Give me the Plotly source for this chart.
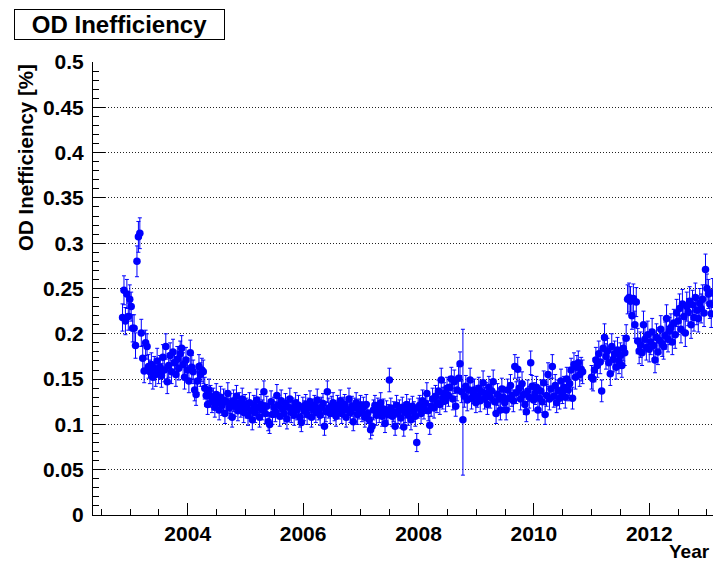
import plotly.graph_objects as go
import numpy as np

# ---------------- data ----------------
# Segment A: late 2002 -> end 2010, Segment B: 2011 -> early 2013 (regular time grid, in years)
segA_start = 2002.870
segB_start = 2011.000
step_years = 0.025

ineff_A = [
    .218, .248, .214, .244, .219, .238, .230, .206, .206, .187,
    .280, .307, .311, .201, .173, .159, .190, .186, .164, .158,
    .166, .152, .162, .155, .170, .158, .163, .154, .174, .160,
    .186, .147, .165, .176, .158, .180, .168, .155, .172, .162,
    .178, .184, .166, .152, .171, .160, .148, .179, .163, .158,
    .138, .133, .148, .164, .155, .160, .158, .140, .132, .122,
    .138, .131, .125, .128, .119, .133, .124, .116, .130, .121,
    .127, .112, .125, .134, .118, .123, .108, .126, .120, .131,
    .115, .124, .119, .128, .113, .122, .118, .110, .124, .115,
    .105, .121, .113, .127, .119, .108, .122, .116, .136, .112,
    .120, .103, .100, .125, .111, .119, .114, .132, .121, .109,
    .126, .117, .112, .123, .106, .119, .128, .113, .118, .110,
    .124, .116, .121, .108, .102, .119, .115, .122, .111, .118,
    .125, .108, .117, .121, .113, .127, .116, .110, .119, .123,
    .098, .114, .136, .118, .112, .120, .124, .115, .109, .121,
    .117, .126, .112, .119, .122, .108, .116, .128, .113, .120,
    .103, .118, .124, .111, .117, .121, .114, .119, .108, .122,
    .112, .105, .094, .098, .116, .121, .110, .118, .113, .124,
    .109, .117, .101, .115, .111, .149, .118, .109, .114, .098,
    .121, .112, .116, .107, .119, .097, .113, .122, .110, .117,
    .105, .120, .114, .109, .080, .118, .121, .112, .126, .117,
    .123, .134, .115, .099, .120, .128, .118, .131, .124, .137,
    .122, .149, .129, .134, .126, .140, .132, .141, .150, .128,
    .147, .120, .138, .151, .167, .136, .105, .131, .142, .127,
    .138, .149, .129, .135, .138, .124, .131, .140, .126, .136,
    .146, .129, .134, .122, .141, .130, .137, .147, .125, .112,
    .133, .128, .116, .139, .130, .124, .116, .138, .129, .143,
    .132, .126, .164, .135, .161, .140, .128, .145, .133, .122,
    .114, .137, .130, .168, .142, .127, .134, .141, .116, .129,
    .137, .125, .146, .111, .132, .155, .128, .139, .164, .131,
    .143, .124, .137, .129, .148, .135, .141, .130, .150, .138,
    .145, .160, .129, .166, .152, .163, .168, .155, .161, .158,
]

err_A = [
    .015, .016, .015, .016, .015, .016, .016, .015, .015, .014,
    .017, .017, .017, .015, .014, .013, .014, .014, .013, .013,
    .013, .013, .013, .013, .014, .013, .013, .013, .014, .013,
    .014, .013, .013, .014, .013, .014, .013, .013, .014, .013,
    .014, .014, .013, .013, .014, .013, .013, .014, .013, .013,
    .012, .012, .013, .013, .013, .013, .013, .012, .012, .011,
    .012, .012, .012, .012, .011, .012, .011, .011, .012, .011,
    .012, .011, .012, .012, .011, .011, .011, .012, .011, .012,
    .011, .011, .011, .012, .011, .011, .011, .011, .011, .011,
    .011, .011, .011, .012, .011, .011, .011, .011, .012, .011,
    .011, .010, .010, .012, .011, .011, .011, .012, .011, .011,
    .012, .011, .011, .011, .011, .011, .012, .011, .011, .011,
    .011, .011, .011, .011, .010, .011, .011, .011, .011, .011,
    .012, .011, .011, .011, .011, .012, .011, .011, .011, .011,
    .010, .011, .012, .011, .011, .011, .011, .011, .011, .011,
    .011, .012, .011, .011, .011, .011, .011, .012, .011, .011,
    .010, .011, .011, .011, .011, .011, .011, .011, .011, .011,
    .011, .011, .010, .010, .011, .011, .011, .011, .011, .011,
    .011, .011, .010, .011, .011, .013, .011, .011, .011, .010,
    .011, .011, .011, .011, .011, .010, .011, .011, .011, .011,
    .011, .011, .011, .011, .010, .011, .011, .011, .012, .011,
    .011, .012, .011, .010, .011, .012, .011, .012, .011, .012,
    .011, .013, .012, .012, .012, .012, .012, .012, .013, .012,
    .013, .011, .012, .013, .013, .012, .100, .012, .012, .012,
    .012, .013, .012, .012, .012, .011, .012, .012, .012, .012,
    .013, .012, .012, .011, .012, .012, .012, .013, .012, .011,
    .012, .012, .011, .012, .012, .011, .011, .012, .012, .012,
    .012, .012, .013, .012, .013, .012, .012, .013, .012, .011,
    .011, .012, .012, .013, .012, .012, .012, .012, .011, .012,
    .012, .012, .013, .011, .012, .013, .012, .012, .013, .012,
    .012, .011, .012, .012, .013, .012, .012, .012, .013, .012,
    .013, .013, .012, .013, .013, .013, .013, .013, .013, .013,
]
# asymmetric lower errors (index -> lower error)
err_A_low_override = {236: .061}

ineff_B = [
    .152, .150, .160, .171, .165, .178, .169, .137, .184, .196,
    .175, .181, .168, .156, .186, .172, .178, .163, .182, .170,
    .176, .165, .184, .179, .195, .238, .240, .236, .220, .239,
    .210, .235, .192, .181, .188, .179, .210, .194, .185, .199,
    .183, .191, .202, .187, .171, .196, .180, .193, .205, .189,
    .186, .198, .217, .194, .203, .207, .191, .212, .199, .223,
    .214, .228, .205, .233, .219, .201, .230, .224, .236, .210,
    .232, .218, .240, .226, .217, .234, .228, .238, .223, .271,
    .250, .244, .233, .222, .245,
]

err_B = [
    .013, .013, .013, .014, .013, .014, .013, .012, .014, .015,
    .014, .014, .013, .013, .014, .014, .014, .013, .014, .014,
    .014, .013, .014, .014, .015, .016, .016, .016, .015, .016,
    .015, .016, .014, .014, .014, .014, .015, .014, .014, .015,
    .014, .014, .015, .014, .014, .015, .014, .014, .015, .014,
    .014, .015, .015, .014, .015, .015, .014, .015, .015, .015,
    .015, .016, .015, .016, .015, .015, .016, .015, .016, .015,
    .016, .015, .016, .016, .015, .016, .016, .016, .015, .017,
    .016, .016, .016, .015, .016,
]

x_tick_vals = [2004, 2006, 2008, 2010, 2012]
x_tick_text = ["2004", "2006", "2008", "2010", "2012"]
y_tick_vals = [0, 0.05, 0.1, 0.15, 0.2, 0.25, 0.3, 0.35, 0.4, 0.45, 0.5]
y_tick_text = ["0", "0.05", "0.1", "0.15", "0.2", "0.25", "0.3", "0.35", "0.4", "0.45", "0.5"]

# ---------------- build ----------------
years_A = segA_start + step_years * np.arange(len(ineff_A))
years_B = segB_start + step_years * np.arange(len(ineff_B))
low_A = list(err_A)
for k, v in err_A_low_override.items():
    low_A[k] = v

x_all = np.concatenate([years_A, years_B])
y_all = list(ineff_A) + list(ineff_B)
e_up = list(err_A) + list(err_B)
e_dn = low_A + list(err_B)

BLUE = "#0000ff"
fig = go.Figure()
fig.add_trace(go.Scatter(
    x=x_all, y=y_all, mode="markers",
    marker=dict(color=BLUE, size=7.5, line=dict(width=0)),
    error_y=dict(type="data", array=e_up, arrayminus=e_dn, symmetric=False,
                 color=BLUE, thickness=1, width=2),
    showlegend=False,
))

FONT = "Liberation Sans"
tickfont = dict(family=FONT, size=21, color="black", weight="bold")

fig.update_layout(
    width=713, height=561,
    margin=dict(l=93, r=0, t=62, b=46),
    plot_bgcolor="white", paper_bgcolor="white",
    showlegend=False,
)
fig.update_xaxes(
    range=[2002.358, 2013.105],
    tickmode="array", tickvals=x_tick_vals, ticktext=x_tick_text,
    ticks="inside", ticklen=12, tickwidth=1, tickcolor="black",
    showline=True, linecolor="black", linewidth=1,
    showgrid=False, zeroline=False,
    tickfont=tickfont,
    minor=dict(tickmode="array", tickvals=list(np.arange(2002.5, 2013.2, 0.5)),
               ticks="inside", ticklen=6, tickcolor="black", tickwidth=1, showgrid=False),
)
fig.update_yaxes(
    range=[0, 0.5],
    tickmode="array", tickvals=y_tick_vals, ticktext=y_tick_text,
    ticks="inside", ticklen=12, tickwidth=1, tickcolor="black",
    showline=True, linecolor="black", linewidth=1,
    showgrid=True, gridcolor="#222222", griddash="1px,2px", gridwidth=1,
    zeroline=False,
    tickfont=tickfont,
    ticklabelstandoff=4,
    minor=dict(tickmode="array", tickvals=list(np.round(np.arange(0, 0.501, 0.01), 3)),
               ticks="inside", ticklen=6, tickcolor="black", tickwidth=1, showgrid=False),
)

def px_x(px):
    return (px - 93) / 620.0

def px_y(py):
    return (515 - py) / 453.0

fig.add_annotation(
    text="<b>OD Inefficiency</b>", xref="paper", yref="paper",
    x=px_x(14), y=px_y(9), xanchor="left", yanchor="top",
    showarrow=False, width=209, height=29, align="center", valign="middle",
    bordercolor="black", borderwidth=1, borderpad=0, bgcolor="white",
    font=dict(family=FONT, size=24, color="black"),
)
fig.add_annotation(
    text="<b>OD Inefficiency [%]</b>", xref="paper", yref="paper",
    x=px_x(12), y=px_y(62), xanchor="left", yanchor="top",
    textangle=-90, showarrow=False,
    font=dict(family=FONT, size=20.5, color="black"),
)
fig.add_annotation(
    text="<b>Year</b>", xref="paper", yref="paper",
    x=px_x(711), y=px_y(551), xanchor="right", yanchor="middle",
    showarrow=False, borderpad=0,
    font=dict(family=FONT, size=19, color="black"),
)

fig.write_html("out.html")
